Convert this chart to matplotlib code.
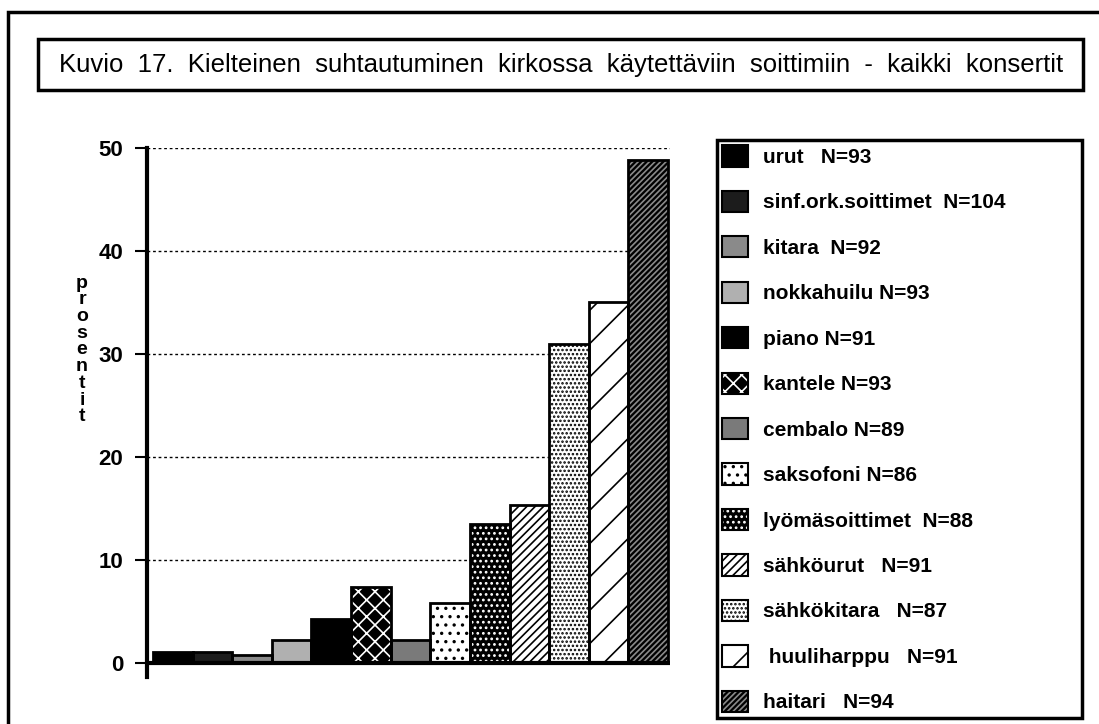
import matplotlib.pyplot as plt
from matplotlib.patches import Patch, Rectangle

# Data
instruments = ['urut', 'sinf.ork.soittimet', 'kitara', 'nokkahuilu', 'piano',
               'kantele', 'cembalo', 'saksofoni', 'lyömäsoittimet', 'sähköurut',
               'sähkökitara', ' huuliharppu', 'haitari']
n_values = [93, 104, 92, 93, 91, 93, 89, 86, 88, 91, 87, 91, 94]
label_gaps = ['   ', '  ', '  ', ' ', ' ', ' ', ' ', ' ', '  ', '   ', '   ', '   ', '   ']
percent = [1.0, 1.0, 0.7, 2.2, 4.2, 7.3, 2.2, 5.8, 13.5, 15.3, 31.0, 35.0, 48.8]
yticks = [0, 10, 20, 30, 40, 50]
title = 'Kuvio  17.  Kielteinen  suhtautuminen  kirkossa  käytettäviin  soittimiin  -  kaikki  konsertit'

# (facecolor, hatch, hatch colour) per bar
styles = [('black', '', 'black'),
          ('#1c1c1c', '', '#1c1c1c'),
          ('#8a8a8a', '', '#8a8a8a'),
          ('#b0b0b0', '', '#b0b0b0'),
          ('black', '', 'black'),
          ('black', 'xx', 'white'),
          ('#7a7a7a', '', '#7a7a7a'),
          ('white', '..', 'black'),
          ('black', '...', 'white'),
          ('white', '////', 'black'),
          ('white', '....', 'black'),
          ('white', '/', 'black'),
          ('black', '//////', '#8a8a8a')]

plt.rcParams['font.family'] = ['Liberation Sans', 'DejaVu Sans']
plt.rcParams['hatch.linewidth'] = 1.2

fig = plt.figure(figsize=(10.99, 7.24), dpi=100)
W, H = 1099, 724

def frame(x0, y0, x1, y1, lw=2.5):
    fig.add_artist(Rectangle((x0 / W, 1 - y1 / H), (x1 - x0) / W, (y1 - y0) / H,
                             transform=fig.transFigure, fill=False,
                             edgecolor='black', linewidth=lw))

frame(8, 12, 1120, 760)
frame(38, 39, 1083, 90)
fig.text(561 / W, 1 - 65 / H, title, ha='center', va='center', fontsize=18.5)

ax = fig.add_axes([147 / W, 1 - 677 / H, 523 / W, (677 - 148) / H])
handles = []
for i, (v, st) in enumerate(zip(percent, styles)):
    fc, hatch, hc = st
    ax.bar(i, v, width=1.0, color=fc, hatch=hatch, edgecolor=hc, linewidth=0, zorder=3)
    ax.bar(i, v, width=1.0, facecolor='none', edgecolor='black', linewidth=2, zorder=4)
    handles.append((Patch(facecolor=fc, hatch=hatch, edgecolor=hc, linewidth=0),
                    Patch(facecolor='none', edgecolor='black', linewidth=1.5)))

ax.set_xlim(-0.65, 12.55)
ax.set_ylim(-1.4, 50)
ax.set_xticks([])
ax.set_yticks(yticks)
ax.set_yticklabels([str(t) for t in yticks], fontsize=16, fontweight='bold')
ax.tick_params(axis='y', length=9, width=1.5, pad=8)
for s in ['top', 'right', 'bottom']:
    ax.spines[s].set_visible(False)
ax.spines['left'].set_linewidth(3)
ax.axhline(0, color='black', linewidth=3, zorder=5)
for t in yticks[1:]:
    ax.axhline(t, color='black', linewidth=1, linestyle=(0, (2, 2)), zorder=1)

fig.text(82 / W, 1 - 350 / H, '\n'.join('prosentit'), ha='center', va='center',
         fontsize=14, fontweight='bold', linespacing=0.98)

labels = [f'{name}{gap}N={n}' for name, gap, n in zip(instruments, label_gaps, n_values)]
leg = fig.legend(handles, labels, loc='upper left',
                 bbox_to_anchor=(717 / W, 1 - 720 / H, (1082 - 717) / W, (720 - 140) / H),
                 mode='expand', fancybox=False, framealpha=1, edgecolor='black',
                 prop={'size': 15, 'weight': 'bold'}, handlelength=1.25, handleheight=1.2,
                 handletextpad=0.7, labelspacing=1.14, borderpad=0.25, borderaxespad=0)
leg.get_frame().set_linewidth(2.5)

fig.savefig('out.png', dpi=100)
